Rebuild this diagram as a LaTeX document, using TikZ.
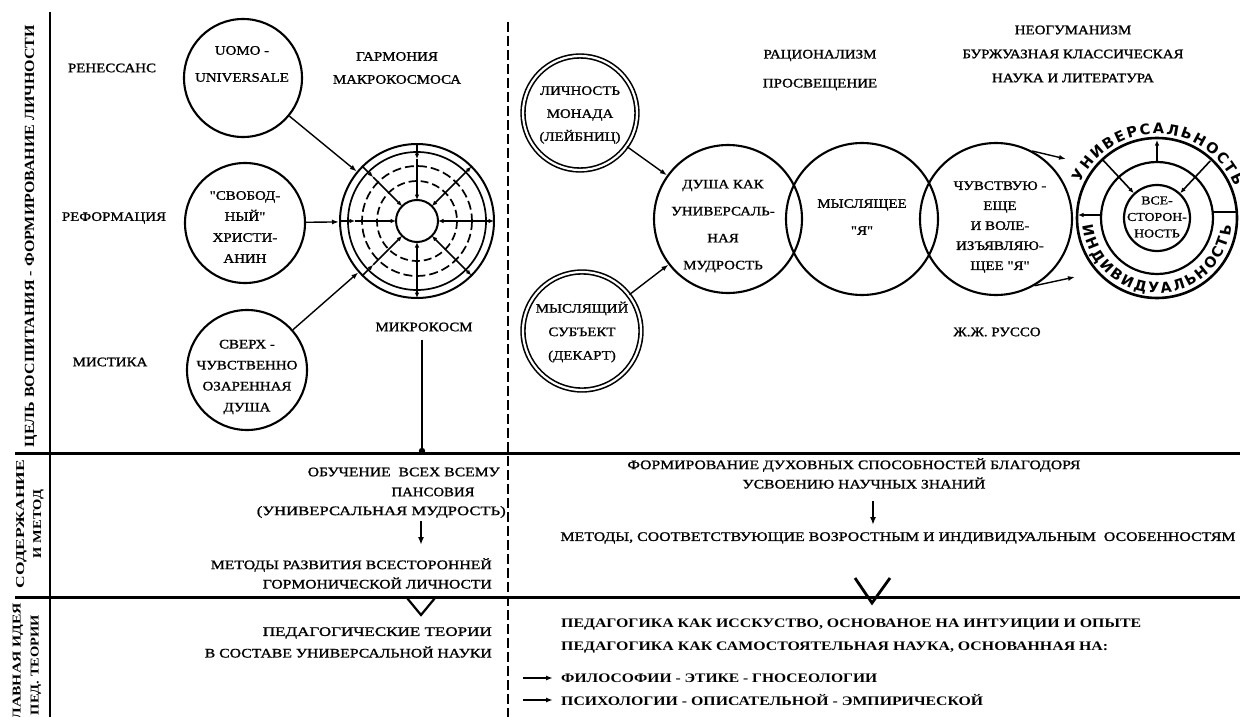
\documentclass[tikz,border=0pt]{standalone}
\usepackage{fontspec}
\usepackage{graphicx}
\setmainfont{Liberation Serif}[FakeStretch=1.15, UprightFeatures={FakeBold=1.2}]
\newfontfamily\ringfont{DejaVu Sans}
\usetikzlibrary{arrows.meta,calc,decorations.text}
\newcommand{\wfit}[2]{\resizebox{#1pt}{\height}{#2}}
\newcommand{\sq}{{\addfontfeatures{Ligatures=TeXOff}"}}
\begin{document}
\begin{tikzpicture}[x=1pt,y=-1pt,
  lab/.style={inner sep=0pt, align=center, font=\fontsize{13}{15}\selectfont},
  labb/.style={inner sep=0pt, align=left, font=\bfseries\fontsize{13}{15}\selectfont},
  circ/.style={circle, draw, line width=2.1pt, inner sep=0pt},
  dbl/.style={circle, draw, line width=1.6pt, double, double distance=2.2pt, inner sep=0pt},
  arr/.style={line width=1.4pt, -{Latex[length=7pt,width=5pt]}},
  spk/.style={line width=1.6pt, -{Latex[length=5.5pt,width=4.5pt]}},
  darr/.style={line width=2pt, -{Latex[length=8pt,width=6pt]}},
  ringtxt/.style={decorate, decoration={text along path, text align=fit to path, text={|\ringfont\bfseries\fontsize{14.5}{15}\selectfont|#1}}}
]
\useasboundingbox (0,0) rectangle (1240,717);
\fill[white] (0,0) rectangle (1240,717);

% frame lines
\draw[line width=3pt] (15,453) -- (1240,453);
\draw[line width=3pt] (15,597) -- (1240,597);
\draw[line width=2.4pt] (50,12) -- (50,717);
\draw[line width=2pt, dash pattern=on 10pt off 4pt] (508,22) -- (508,717);

% row labels
\node[lab, rotate=90, font=\bfseries\fontsize{14}{14}\selectfont] (goal) at (31,236) {\wfit{422}{ЦЕЛЬ ВОСПИТАНИЯ - ФОРМИРОВАНИЕ ЛИЧНОСТИ}};
\node[lab, rotate=90, font=\bfseries\fontsize{12}{17}\selectfont] (sod) at (30,524) {\wfit{128}{СОДЕРЖАНИЕ}\\\wfit{68}{И МЕТОД}};
\node[lab, rotate=90, font=\bfseries\fontsize{12}{18}\selectfont] (idea) at (27,665) {\wfit{124}{ГЛАВНАЯ ИДЕЯ}\\\wfit{100}{ПЕД. ТЕОРИИ}};

% left epochs
\node[lab] (ren) at (112,68) {РЕНЕССАНС};
\node[lab] (ref) at (114,218) {РЕФОРМАЦИЯ};
\node[lab] (mis) at (110,362) {МИСТИКА};
\node[lab, font=\fontsize{13}{23}\selectfont] (garm) at (397,68) {ГАРМОНИЯ\\МАКРОКОСМОСА};
\node[lab] (mikro) at (424,327) {МИКРОКОСМ};

% left circles
\node[circ, minimum size=118] (c1) at (243,78) {};
\node[lab, font=\fontsize{13}{27}\selectfont] (t1) at (242,64) {UOMO -\\UNIVERSALE};
\node[circ, minimum size=120] (c2) at (245,223) {};
\node[lab, font=\fontsize{13}{21}\selectfont] (t2) at (245,227) {\sq СВОБОД-\\НЫЙ\sq\\ХРИСТИ-\\АНИН};
\node[circ, minimum size=120] (c3) at (247,370) {};
\node[lab, font=\fontsize{13}{21}\selectfont] (t3) at (247,377) {СВЕРХ -\\ЧУВСТВЕННО\\ОЗАРЕННАЯ\\ДУША};

% concentric microcosm
\node[circle, draw, line width=2pt, minimum size=154, inner sep=0pt] (cc) at (417,221) {};
\draw[line width=1.7pt] (cc.center) circle[radius=69];
\draw[line width=1.7pt, dash pattern=on 9pt off 4pt] (cc.center) circle[radius=55];
\draw[line width=1.7pt, dash pattern=on 8pt off 4pt] (cc.center) circle[radius=40];
\foreach \a in {180,225,270,135}{
  \draw[spk] ($(cc.center)+(\a:77)$) -- ($(cc.center)+(\a:62)$);
  \draw[spk] ($(cc.center)+(\a:62)$) -- ($(cc.center)+(\a:21)$);
}
\foreach \a in {0,45,90,315}{
  \draw[spk] ($(cc.center)+(\a:40)$) -- ($(cc.center)+(\a:77)$);
  \draw[spk] ($(cc.center)+(\a:40)$) -- ($(cc.center)+(\a:21)$);
}
\node[circle, draw, line width=2pt, minimum size=42, inner sep=0pt, fill=white] (ci) at (cc.center) {};

\draw[arr] (c1) -- (cc);
\draw[arr] (c2) -- (cc);
\draw[arr] (c3) -- (cc);

\coordinate (mkb) at (422,451);
\draw[line width=1.8pt, shorten <=8pt] (mikro.south -| mkb) -- (mkb);
\fill (mkb) circle[radius=3.2];

% right top headings
\node[lab, font=\fontsize{13}{29}\selectfont] (rac) at (820,70) {РАЦИОНАЛИЗМ\\ПРОСВЕЩЕНИЕ};
\node[lab, font=\fontsize{13}{24}\selectfont] (neo) at (1073,54) {НЕОГУМАНИЗМ\\БУРЖУАЗНАЯ КЛАССИЧЕСКАЯ\\НАУКА И ЛИТЕРАТУРА};
\node[lab] (rus) at (997,332) {Ж.Ж. РУССО};

% right circles
\node[dbl, minimum size=114] (d1) at (580,113) {};
\node[lab, font=\fontsize{13}{23}\selectfont] (dt1) at (580,115) {ЛИЧНОСТЬ\\МОНАДА\\(ЛЕЙБНИЦ)};
\node[dbl, minimum size=118] (d2) at (582,331) {};
\node[lab, font=\fontsize{13}{23.5}\selectfont] (dt2) at (582,332) {МЫСЛЯЩИЙ\\СУБЪЕКТ\\(ДЕКАРТ)};

\node[circ, minimum size=148] (e1) at (728,219) {};
\node[circ, minimum size=152] (e2) at (862,219) {};
\node[circ, minimum size=152] (e3) at (996,219) {};
\node[lab, font=\fontsize{13}{27}\selectfont] (et1) at (723,226) {ДУША КАК\\УНИВЕРСАЛЬ-\\НАЯ\\МУДРОСТЬ};
\node[lab, font=\fontsize{13}{27}\selectfont] (et2) at (862,217) {МЫСЛЯЩЕЕ\\\sq Я\sq};
\node[lab, font=\fontsize{13}{20}\selectfont] (et3) at (1000,227) {ЧУВСТВУЮ -\\ЕЩЕ\\И ВОЛЕ-\\ИЗЪЯВЛЯЮ-\\ЩЕЕ \sq Я\sq};

\draw[arr] (d1) -- (e1);
\draw[arr] (d2) -- (e1);

% universality ring
\node[circle, draw, line width=2.6pt, minimum size=160, inner sep=0pt] (U) at (1157,218) {};
\draw[line width=2.2pt] (U.center) circle[radius=56];
\node[circle, draw, line width=2.2pt, minimum size=66, inner sep=0pt] (Ui) at (U.center) {};
\node[lab, font=\fontsize{12}{16.5}\selectfont] (Ut) at (1157,217) {ВСЕ-\\СТОРОН-\\НОСТЬ};
\draw[spk] ($(U.center)+(0,-56)$) -- ($(U.center)+(0,-78)$);
\draw[spk] ($(U.center)+(227:79)$) -- ($(U.center)+(227:34)$);
\draw[spk] ($(U.center)+(313:78)$) -- ($(U.center)+(313:34)$);
\draw[spk] ($(U.center)+(-56,-3)$) -- ($(U.center)+(-79,-3)$);
\draw[line width=1.6pt] ($(U.center)+(56,-6)$) -- ($(U.center)+(79,-6)$);
\path[ringtxt=УНИВЕРСАЛЬНОСТЬ] ($(U.center)+(205:84)$) arc[start angle=205, end angle=338, radius=84];
\path[ringtxt=ИНДИВИДУАЛЬНОСТЬ] ($(U.center)+(174:75)$) arc[start angle=174, end angle=6, radius=75];

\coordinate (u1) at (1066,159);
\coordinate (u2) at (1075,277);
\draw[arr] (e3.62) -- (u1);
\draw[arr] (e3.-60) -- (u2);

% content & method, left
\node[lab, anchor=east] (m1) at (500,472) {\wfit{192}{ОБУЧЕНИЕ~~ВСЕХ ВСЕМУ}};
\node[lab] (m2) at (433,492) {\wfit{83}{ПАНСОВИЯ}};
\node[lab, anchor=east] (m3) at (506,512) {\wfit{249}{(УНИВЕРСАЛЬНАЯ МУДРОСТЬ)}};
\coordinate (da1) at (421,521);
\coordinate (da2) at (421,545);
\draw[darr] (da1) -- (da2);
\node[lab, anchor=east] (m4) at (492,565) {\wfit{281}{МЕТОДЫ РАЗВИТИЯ ВСЕСТОРОННЕЙ}};
\node[lab, anchor=east] (m5) at (492,583) {\wfit{229}{ГОРМОНИЧЕСКОЙ ЛИЧНОСТИ}};
\draw[line width=2.2pt] (407,598) -- (421,615) -- (435,598);
\node[lab, anchor=east] (m6) at (492,633) {\wfit{229}{ПЕДАГОГИЧЕСКИЕ ТЕОРИИ}};
\node[lab, anchor=east] (m7) at (492,652) {\wfit{287}{В СОСТАВЕ УНИВЕРСАЛЬНОЙ НАУКИ}};

% content & method, right
\node[lab] (r1) at (854,465) {\wfit{453}{ФОРМИРОВАНИЕ ДУХОВНЫХ СПОСОБНОСТЕЙ БЛАГОДОРЯ}};
\node[lab] (r2) at (864,483) {\wfit{243}{УСВОЕНИЮ НАУЧНЫХ ЗНАНИЙ}};
\coordinate (db1) at (873,501);
\coordinate (db2) at (873,525);
\draw[darr] (db1) -- (db2);
\node[lab] (r3) at (898,538) {\wfit{675}{МЕТОДЫ, СООТВЕТСТВУЮЩИЕ ВОЗРОСТНЫМ И ИНДИВИДУАЛЬНЫМ~~ОСОБЕННОСТЯМ}};
\draw[line width=2.8pt] (855,578) -- (872,603) -- (890,578);

\node[labb, anchor=west] (p1) at (561,625) {\wfit{580}{ПЕДАГОГИКА КАК ИССКУСТВО, ОСНОВАНОЕ НА ИНТУИЦИИ И ОПЫТЕ}};
\node[labb, anchor=west] (p2) at (561,648) {\wfit{547}{ПЕДАГОГИКА КАК САМОСТОЯТЕЛЬНАЯ НАУКА, ОСНОВАННАЯ НА:}};
\node[labb, anchor=west] (p3) at (561,678) {\wfit{316}{ФИЛОСОФИИ - ЭТИКЕ - ГНОСЕОЛОГИИ}};
\node[labb, anchor=west] (p4) at (561,700) {\wfit{422}{ПСИХОЛОГИИ - ОПИСАТЕЛЬНОЙ - ЭМПИРИЧЕСКОЙ}};
\coordinate (pa1) at (523,678);
\coordinate (pa2) at (523,700);
\draw[arr, shorten >=8pt] (pa1) -- (p3.west);
\draw[arr, shorten >=8pt] (pa2) -- (p4.west);
\end{tikzpicture}
\end{document}
